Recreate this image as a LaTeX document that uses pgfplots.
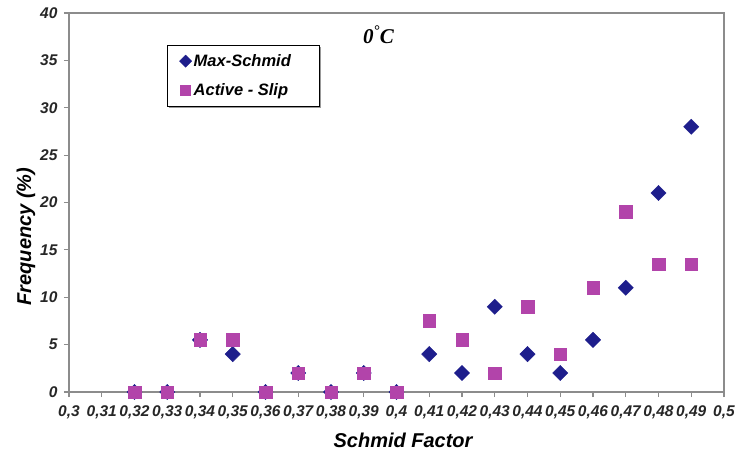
\documentclass[border=0pt]{standalone}
\usepackage{pgfplots}
\pgfplotsset{compat=1.18}
\usepackage{fontspec}
\setmainfont{Liberation Sans}
\newfontfamily\timesfont{Liberation Serif}
\usetikzlibrary{shadows}
\definecolor{navyd}{RGB}{30,30,140}
\definecolor{magp}{RGB}{178,68,170}
\definecolor{axgray}{RGB}{140,140,140}
\begin{document}
\begin{tikzpicture}
\path[use as bounding box] (-69pt,-64pt) rectangle (666pt,392pt);
\begin{axis}[
  scale only axis, width=655pt, height=379pt,
  at={(0,0)}, anchor=south west,
  xmin=0.3, xmax=0.5, ymin=0, ymax=40,
  xtick={0.3,0.31,0.32,0.33,0.34,0.35,0.36,0.37,0.38,0.39,0.4,0.41,0.42,0.43,0.44,0.45,0.46,0.47,0.48,0.49,0.5},
  ytick={0,5,10,15,20,25,30,35,40},
  /pgf/number format/assume math mode=true,
  /pgf/number format/use comma,
  /pgf/number format/precision=2,
  ticklabel style={font=\fontsize{15.5}{17}\selectfont\bfseries\itshape, text=black!85},
  xticklabel style={yshift=-5pt},
  yticklabel style={xshift=-3pt},
  axis line style={draw=axgray, line width=1.2pt},
  tick style={draw=axgray, line width=1.2pt},
  tick align=outside, major tick length=5pt,
  xtick pos=bottom, ytick pos=left,
  xlabel={Schmid Factor},
  ylabel={Frequency (\%)},
  xlabel style={font=\fontsize{20}{22}\selectfont\bfseries\itshape, at={(axis description cs:0.51,0)}, yshift=-48pt, anchor=center},
  ylabel style={font=\fontsize{20}{22}\selectfont\bfseries\itshape, at={(axis description cs:0,0.41)}, yshift=43pt, anchor=center},
  clip=false,
  legend style={at={(0.15,0.915)}, anchor=north west, draw=black, fill=white,
    font=\fontsize{16.5}{19}\selectfont\bfseries\itshape,
    drop shadow={shadow xshift=2pt, shadow yshift=-2pt, fill=black!80},
    row sep=12pt, inner xsep=12pt, inner ysep=7pt},
  legend cell align=left,
  legend image post style={scale=0.8},
]
\addplot[only marks, mark=square*, mark size=5.4pt, mark options={rotate=45, fill=navyd, draw=navyd}]
coordinates {
(0.32,0) (0.33,0) (0.34,5.5) (0.35,4) (0.36,0) (0.37,2) (0.38,0) (0.39,2) (0.40,0)
(0.41,4) (0.42,2) (0.43,9) (0.44,4) (0.45,2) (0.46,5.5) (0.47,11) (0.48,21) (0.49,28)
};
\addlegendentry{Max-Schmid\rule{14pt}{0pt}}
\addplot[only marks, mark=square*, mark size=6.3pt, mark options={fill=magp, draw=magp}]
coordinates {
(0.32,0) (0.33,0) (0.34,5.5) (0.35,5.5) (0.36,0) (0.37,2) (0.38,0) (0.39,2) (0.40,0)
(0.41,7.5) (0.42,5.5) (0.43,2) (0.44,9) (0.45,4) (0.46,11) (0.47,19) (0.48,13.5) (0.49,13.5)
};
\addlegendentry{Active - Slip}
\node[font=\timesfont\fontsize{21}{23}\selectfont\bfseries\itshape] at (axis cs:0.3945,37.7) {0\textsuperscript{°}C};
\end{axis}
\end{tikzpicture}
\end{document}
